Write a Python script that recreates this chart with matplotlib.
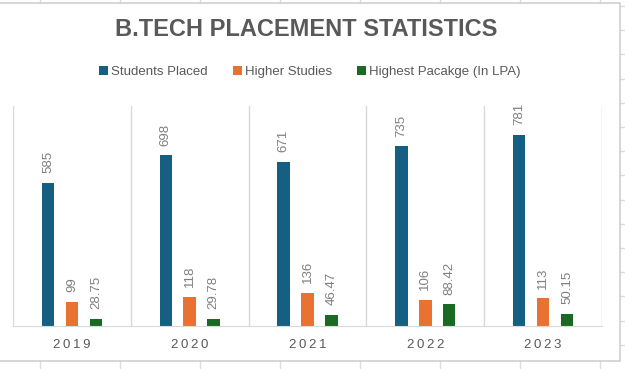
import numpy as np
import matplotlib
matplotlib.use("Agg")
import matplotlib.pyplot as plt
from matplotlib.patches import Patch
from matplotlib.lines import Line2D

years = ["2019", "2020", "2021", "2022", "2023"]
series_names = ["Students Placed", "Higher Studies", "Highest Pacakge (In LPA)"]
placed = [585, 698, 671, 735, 781]
higher = [99, 118, 136, 106, 113]
highest_pkg = [28.75, 29.78, 46.47, 88.42, 50.15]

colors = ["#156082", "#E97132", "#196B24"]
TXT = "#595959"
LBL = "#7f7f7f"
GRID = "#d9d9d9"

W, H = 625, 369
fig = plt.figure(figsize=(W / 100, H / 100), dpi=100)
fig.patch.set_facecolor("white")

def fx(x):
    return x / W

def fy(y):
    return 1 - y / H

# spreadsheet cells outside the chart area
for xc in np.arange(40, W, 80):
    fig.add_artist(Line2D([fx(xc), fx(xc)], [fy(0), fy(2.5)], color="#dcdcdc", lw=1))
    fig.add_artist(Line2D([fx(xc), fx(xc)], [fy(361), fy(H)], color="#dcdcdc", lw=1))
for yc in np.arange(6, H, 24.2):
    fig.add_artist(Line2D([fx(620), fx(W)], [fy(yc), fy(yc)], color="#dcdcdc", lw=1))
# chart area border
fig.add_artist(Line2D([0, fx(620), fx(620), 0], [fy(2.5), fy(2.5), fy(361), fy(361)],
                      color="#d0d0d0", lw=1.2))

ax = fig.add_axes([fx(13), fy(326), fx(602) - fx(13), (326 - 106) / H])
x = np.arange(len(years))
offsets = [-0.203, 0, 0.203]
bw = 0.106
for vals, off, c in zip([placed, higher, highest_pkg], offsets, colors):
    bars = ax.bar(x + off, vals, width=bw, color=c, zorder=3)
    for b, v in zip(bars, vals):
        s = str(int(v)) if float(v).is_integer() else "%.2f" % v
        ax.annotate(s, (b.get_x() + b.get_width() / 2, v), xytext=(0, 7),
                    textcoords="offset points", rotation=90, ha="center", va="bottom",
                    fontsize=9.5, color=LBL, family="Liberation Sans")

ax.set_xlim(-0.5, len(years) - 0.5)
ax.set_ylim(0, 900)
ax.set_yticks([])
ax.set_xticks(x)
ax.set_xticklabels(["\u2009".join(y) for y in years], fontsize=9.5, color=TXT,
                   family=["Liberation Sans", "DejaVu Sans"])
ax.set_xticks(np.arange(-0.5, len(years)), minor=True)
ax.tick_params(axis="x", which="both", length=0, pad=9)
ax.grid(axis="x", which="minor", color=GRID, lw=1, zorder=0)
for sp in ["top", "left", "right"]:
    ax.spines[sp].set_visible(False)
ax.spines["bottom"].set_color(GRID)
ax.spines["bottom"].set_zorder(4)

fig.text(fx(306), fy(30), "B.TECH PLACEMENT STATISTICS",
         ha="center", va="center", fontsize=17, fontweight="bold", color=TXT,
         family="Liberation Sans")

handles = [Patch(facecolor=c, edgecolor="none") for c in colors]
fig.legend(handles, series_names, loc="center", bbox_to_anchor=(fx(310), fy(72)),
           ncol=3, frameon=False, handlelength=0.65, handleheight=0.65,
           handletextpad=0.25, columnspacing=1.9, labelcolor=TXT,
           prop={"family": "Liberation Sans", "size": 9.5})

fig.savefig("out.png", dpi=100, facecolor="white")
